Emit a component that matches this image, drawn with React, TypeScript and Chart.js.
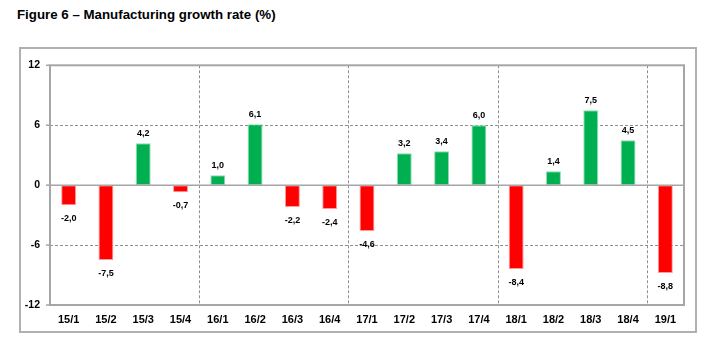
import React, { useEffect, useRef } from "react";
import { Chart, registerables } from "chart.js";

Chart.register(...registerables);

const categories = ["15/1", "15/2", "15/3", "15/4", "16/1", "16/2", "16/3", "16/4", "17/1", "17/2", "17/3", "17/4", "18/1", "18/2", "18/3", "18/4", "19/1"];
const growth = [-2.0, -7.5, 4.2, -0.7, 1.0, 6.1, -2.2, -2.4, -4.6, 3.2, 3.4, 6.0, -8.4, 1.4, 7.5, 4.5, -8.8];
const yTicks = [-12, -6, 0, 6, 12];

const FONT = "'Liberation Sans', Arial, sans-serif";
const GREEN = "#00B050";
const RED = "#FF0000";

const fmt = (v: number) => v.toFixed(1).replace(".", ",");

const decorPlugin = {
  id: "decor",
  beforeDatasetsDraw(chart: any) {
    const { ctx, chartArea, scales } = chart;
    const { left, right, top, bottom } = chartArea;
    const x = scales.x;
    const y = scales.y;
    ctx.save();
    ctx.strokeStyle = "#8f8f8f";
    ctx.lineWidth = 1;
    ctx.setLineDash([3, 2]);
    yTicks.forEach((v) => {
      if (v === 0 || v === yTicks[0] || v === yTicks[yTicks.length - 1]) return;
      const py = Math.round(y.getPixelForValue(v)) + 0.5;
      ctx.beginPath();
      ctx.moveTo(left, py);
      ctx.lineTo(right, py);
      ctx.stroke();
    });
    categories.forEach((c, i) => {
      if (i === 0 || c.split("/")[1] !== "1") return;
      const px = Math.round((x.getPixelForValue(i - 1) + x.getPixelForValue(i)) / 2) + 0.5;
      ctx.beginPath();
      ctx.moveTo(px, top);
      ctx.lineTo(px, bottom);
      ctx.stroke();
    });
    ctx.restore();
  },
  afterDatasetsDraw(chart: any) {
    const { ctx, chartArea, scales } = chart;
    const { left, right, top, bottom } = chartArea;
    const y = scales.y;
    ctx.save();
    ctx.setLineDash([]);
    ctx.strokeStyle = "#a6a6a6";
    ctx.lineWidth = 1.5;
    const y0 = y.getPixelForValue(0);
    ctx.beginPath();
    ctx.moveTo(left, y0);
    ctx.lineTo(right, y0);
    ctx.stroke();
    // small tick marks on y axis
    yTicks.forEach((v) => {
      const py = y.getPixelForValue(v);
      ctx.beginPath();
      ctx.moveTo(left - 4, py);
      ctx.lineTo(left, py);
      ctx.stroke();
    });
    ctx.lineWidth = 2;
    ctx.strokeRect(left, top, right - left, bottom - top);

    // data labels
    const meta = chart.getDatasetMeta(0);
    ctx.fillStyle = "#000";
    ctx.font = `bold 9px ${FONT}`;
    ctx.textAlign = "center";
    ctx.textBaseline = "middle";
    meta.data.forEach((el: any, i: number) => {
      const v = growth[i];
      const ly = v >= 0 ? el.y - 10 : el.y + 13;
      ctx.fillText(fmt(v), el.x, ly);
    });
    ctx.restore();
  },
};

export default function App() {
  const ref = useRef<HTMLCanvasElement | null>(null);
  useEffect(() => {
    if (!ref.current) return;
    const chart = new Chart(ref.current, {
      type: "bar",
      data: {
        labels: categories,
        datasets: [
          {
            data: growth,
            backgroundColor: growth.map((v) => (v >= 0 ? GREEN : RED)),
            borderColor: growth.map((v) => (v >= 0 ? "#8fdcb2" : "#ff9a9a")),
            borderWidth: 1,
            borderSkipped: false,
            categoryPercentage: 1,
            barPercentage: 0.4,
          },
        ],
      },
      options: {
        responsive: false,
        animation: false,
        devicePixelRatio: 1,
        layout: { padding: { left: 0, top: 13, right: 11, bottom: 0 } },
        plugins: { legend: { display: false }, tooltip: { enabled: false }, title: { display: false } },
        scales: {
          x: {
            type: "category",
            grid: { display: false, drawTicks: false },
            border: { display: false },
            ticks: {
              color: "#000",
              font: { family: FONT, weight: "bold", size: 11 },
              padding: 8,
              maxRotation: 0,
              autoSkip: false,
            },
            afterFit: (s: any) => {
              s.height = 26;
            },
          },
          y: {
            min: -12,
            max: 12,
            afterBuildTicks: (s: any) => {
              s.ticks = yTicks.map((v) => ({ value: v }));
            },
            grid: { display: false, drawTicks: false },
            border: { display: false },
            ticks: {
              color: "#000",
              font: { family: FONT, weight: "bold", size: 10.5 },
              padding: 10,
              callback: (v: any) => String(v),
            },
            afterFit: (s: any) => {
              s.width = 29;
            },
          },
        },
      },
      plugins: [decorPlugin],
    } as any);
    return () => chart.destroy();
  }, []);

  return (
    <div style={{ position: "absolute", left: 0, top: 0, width: 718, height: 351, background: "#fff" }}>
      <div
        style={{
          position: "absolute",
          left: 17,
          top: 6,
          fontFamily: FONT,
          fontWeight: "bold",
          fontSize: 13.3,
          lineHeight: "17px",
          color: "#000",
          whiteSpace: "nowrap",
        }}
      >
        Figure 6 – Manufacturing growth rate (%)
      </div>
      <div
        style={{
          position: "absolute",
          left: 19,
          top: 47,
          width: 674,
          height: 282,
          border: "2px solid #b0b0b0",
        }}
      >
        <canvas ref={ref} width={674} height={282} style={{ display: "block", width: 674, height: 282 }} />
      </div>
    </div>
  );
}
